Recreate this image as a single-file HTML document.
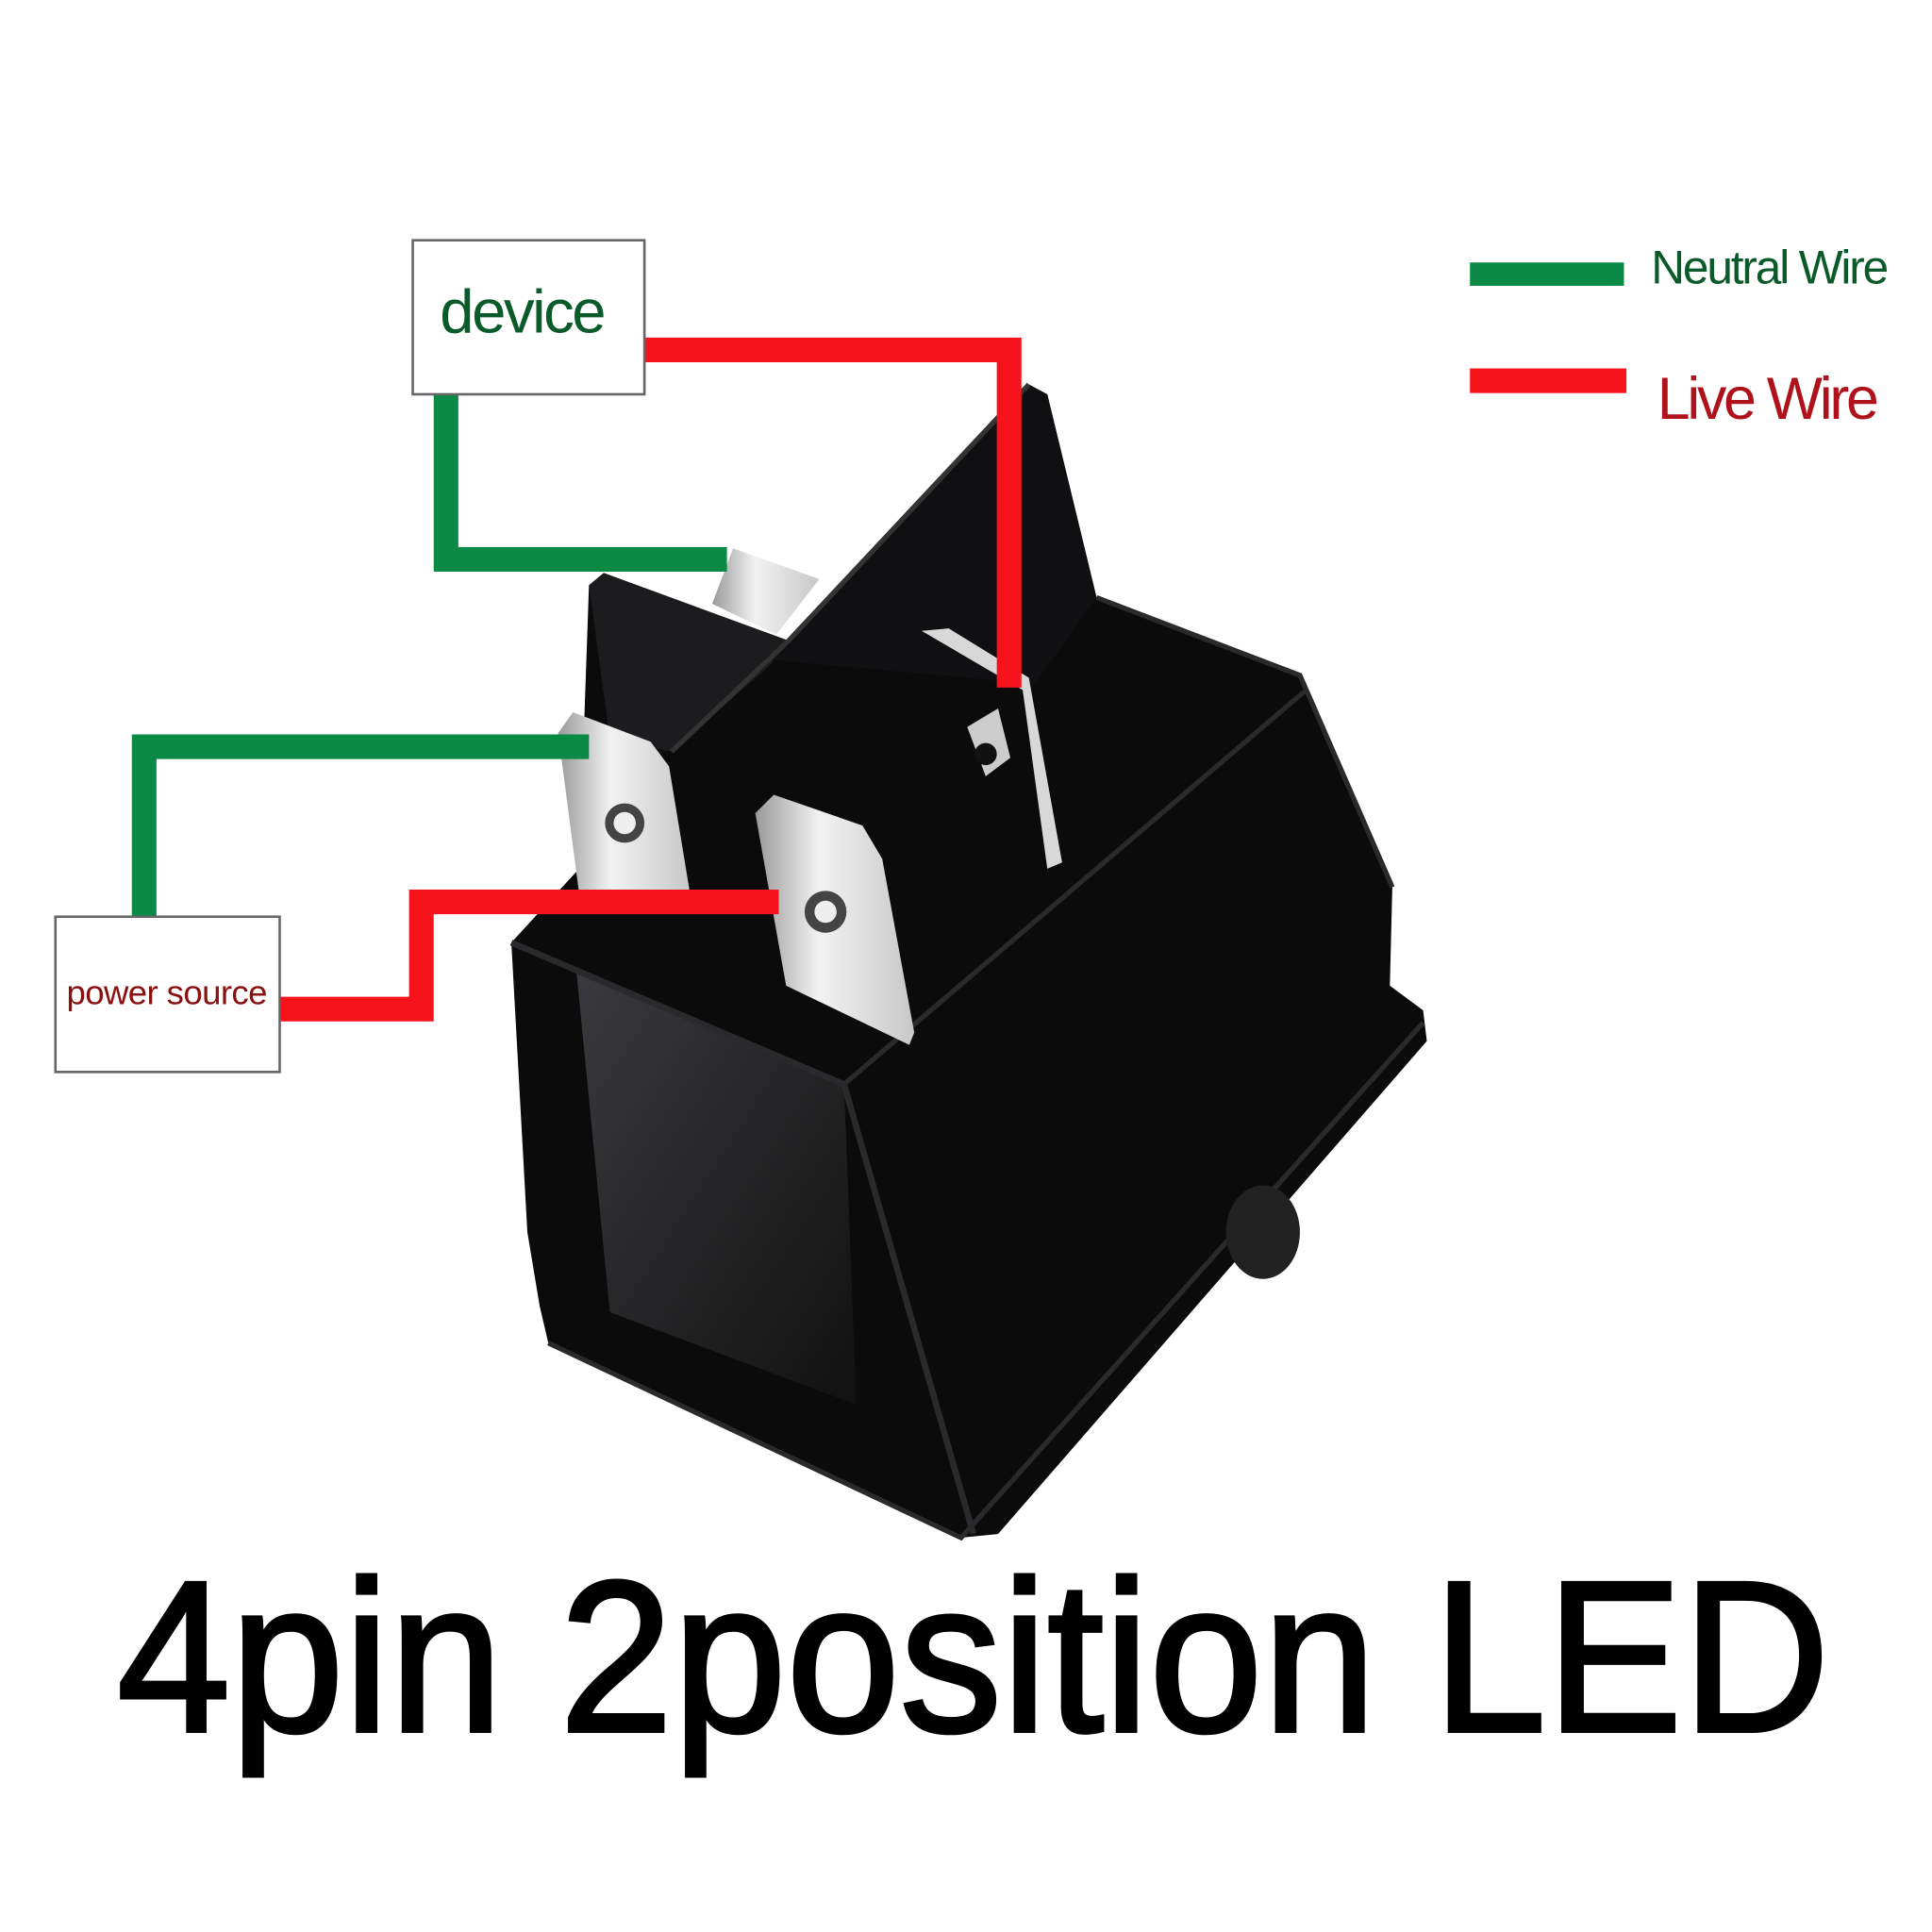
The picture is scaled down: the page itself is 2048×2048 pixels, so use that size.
<!DOCTYPE html>
<html><head><style>body{margin:0;background:#fff}svg{display:block}</style></head><body>
<svg width="2048" height="2048" viewBox="0 0 1568 1568" xmlns="http://www.w3.org/2000/svg">
<defs>
<linearGradient id="met" x1="0" y1="0" x2="1" y2="0"><stop offset="0" stop-color="#9a9a9a"/><stop offset=".4" stop-color="#f2f2f2"/><stop offset="1" stop-color="#c8c8c8"/></linearGradient>
<linearGradient id="face" x1="0" y1="0" x2="1" y2="1"><stop offset="0" stop-color="#3a3a3e"/><stop offset="1" stop-color="#111"/></linearGradient>
</defs>
<rect width="1568" height="1568" fill="#fff"/>
<polygon points="415,765 470,705 478,475 490,465 640,520 835,312 850,320 890,485 1055,548 1130,720 1128,800 1155,820 1158,845 810,1245 780,1248 445,1090 438,1060 428,1000" fill="#0b0b0c"/>
<polygon points="468,790 685,880 695,1140 495,1065" fill="url(#face)"/>
<polygon points="478,475 490,465 640,520 625,540 545,610 495,600" fill="#1c1c1e"/>
<polygon points="640,520 835,312 850,320 890,485 840,555 620,535" fill="#101012"/>
<polyline points="545,610 640,520 835,312" fill="none" stroke="#333" stroke-width="4"/>
<polyline points="890,485 1055,548 1130,720" fill="none" stroke="#2a2a2a" stroke-width="4"/>
<polyline points="415,765 685,880 790,1245" fill="none" stroke="#2a2a2c" stroke-width="5"/>
<polyline points="685,880 1060,560" fill="none" stroke="#2a2a2c" stroke-width="4"/>
<polyline points="445,1090 780,1248 1155,830" fill="none" stroke="#2a2a2c" stroke-width="4"/>
<ellipse cx="1025" cy="1000" rx="30" ry="38" fill="#222"/>
<polygon points="578,490 595,445 665,470 630,515" fill="url(#met)"/>
<polygon points="748,512 770,510 835,550 862,700 850,705 830,560" fill="#d8d8d8"/>
<polygon points="785,590 810,575 820,615 800,630" fill="#ccc"/>
<circle cx="800" cy="612" r="9" fill="#111"/>
<polygon points="453,595 465,578 528,602 543,622 560,725 470,725" fill="url(#met)"/>
<circle cx="507" cy="668" r="16" fill="#444"/><circle cx="507" cy="668" r="9" fill="#eee"/>
<polygon points="613,660 628,645 700,670 716,697 742,838 738,848 638,800" fill="url(#met)"/>
<circle cx="670" cy="740" r="17" fill="#444"/><circle cx="670" cy="740" r="9" fill="#eee"/>
<g fill="none" stroke-width="20" stroke-linejoin="miter" stroke-linecap="butt">
<polyline points="523,284 819,284 819,558" stroke="#f5141c"/>
<polyline points="362,320 362,454 590,454" stroke="#0a8a45"/>
<polyline points="117,744 117,606 478,606" stroke="#0a8a45"/>
<polyline points="227,819 342,819 342,732 632,732" stroke="#f5141c"/>
</g>
<rect x="335" y="195" width="188" height="125" fill="#fff" stroke="#666" stroke-width="2"/>
<text x="357" y="270" font-family="Liberation Sans, sans-serif" font-size="50" fill="#0b5a2a" textLength="135">device</text>
<rect x="45" y="744" width="182" height="126" fill="#fff" stroke="#666" stroke-width="2"/>
<text x="54" y="815" font-family="Liberation Sans, sans-serif" font-size="28" fill="#8a1010" textLength="163">power source</text>
<rect x="1193" y="213" width="125" height="19" fill="#0a8a45"/>
<text x="1340" y="230" font-family="Liberation Sans, sans-serif" font-size="38" fill="#0b5a2a" textLength="193">Neutral Wire</text>
<rect x="1193" y="299" width="127" height="20" fill="#f5141c"/>
<text x="1345" y="340" font-family="Liberation Sans, sans-serif" font-size="48" fill="#b0121b" textLength="180">Live Wire</text>
<text x="95" y="1405" font-family="Liberation Sans, sans-serif" font-size="175" fill="#000" stroke="#000" stroke-width="3" textLength="1390" lengthAdjust="spacingAndGlyphs">4pin 2position  LED</text>
</svg>
</body></html>
